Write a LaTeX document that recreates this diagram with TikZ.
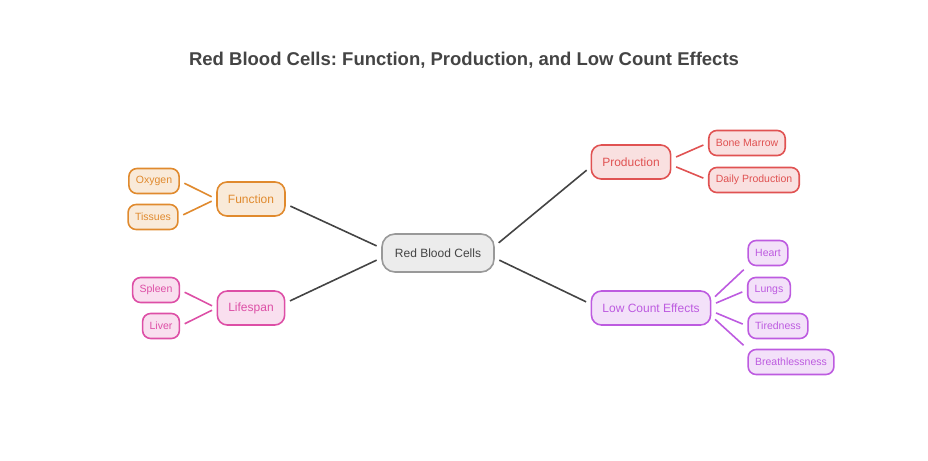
\documentclass[tikz,border=0pt]{standalone}
\usepackage{fontspec}
\setmainfont{Liberation Sans}
\frenchspacing
\usetikzlibrary{positioning}
\definecolor{colorPR}{HTML}{E05252}
\definecolor{colorLC}{HTML}{BD5BE0}
\definecolor{colorText}{HTML}{444444}
\definecolor{colorFN}{HTML}{E08A2E}
\definecolor{colorLS}{HTML}{DD4FA6}
\tikzset{
   every path/.style={line width=1.6pt},
   topic/.style={rectangle, rounded corners=10pt, draw=#1, fill=#1!18, text=#1, minimum height=34pt, inner xsep=11pt, font=\fontsize{12}{14}\selectfont},
   leaf/.style={rectangle, rounded corners=8pt, draw=#1, fill=#1!18, text=#1, minimum height=25pt, inner xsep=7pt, font=\fontsize{10.5}{12}\selectfont},
   link/.style={draw=colorText, shorten >=5pt, shorten <=5pt},
   sublink/.style={draw=#1, shorten >=5pt, shorten <=5pt},
}
\begin{document}
\begin{tikzpicture}[x=1pt,y=-1pt]
\useasboundingbox (0,0) rectangle (928,460);

\node[text=colorText, font=\bfseries\fontsize{18.5}{21}\selectfont] (title) at (464,60) {Red Blood Cells: Function, Production, and Low Count Effects};

\node[rectangle, rounded corners=13pt, draw=gray!80, fill=gray!15, text=colorText, minimum height=38pt, inner xsep=13pt, font=\fontsize{12}{14}\selectfont] (rbc) at (438,253) {Red Blood Cells};

% left branches
\node[topic=colorFN] (fn) at (251,199) {Function};
\node[leaf=colorFN] (oxy) at (154,181) {Oxygen};
\node[leaf=colorFN] (tis) at (153,217) {Tissues};

\node[topic=colorLS] (life) at (251,308) {Lifespan};
\node[leaf=colorLS] (spl) at (156,290) {Spleen};
\node[leaf=colorLS] (liv) at (161,326) {Liver};

% right branches
\node[topic=colorPR] (prod) at (631,162) {Production};
\node[leaf=colorPR] (bone) at (747,143) {Bone Marrow};
\node[leaf=colorPR] (daily) at (754,180) {Daily Production};

\node[topic=colorLC] (low) at (651,308) {Low Count Effects};
\node[leaf=colorLC] (heart) at (768,253) {Heart};
\node[leaf=colorLC] (lung) at (769,290) {Lungs};
\node[leaf=colorLC] (tired) at (778,326) {Tiredness};
\node[leaf=colorLC] (breath) at (791,362) {Breathlessness};

\draw[link] ([yshift=5pt]rbc.west) -- ([yshift=-5pt]fn.east);
\draw[link] ([yshift=-5pt]rbc.west) -- ([yshift=5pt]life.east);
\draw[link] ([yshift=7pt]rbc.east) -- ([yshift=-5pt]prod.west);
\draw[link] ([yshift=-5pt]rbc.east) -- ([yshift=4pt]low.west);

\draw[sublink=colorFN] (fn.west) -- (oxy.east);
\draw[sublink=colorFN] (fn.west) -- (tis.east);
\draw[sublink=colorLS] (life.west) -- (spl.east);
\draw[sublink=colorLS] (life.west) -- (liv.east);
\draw[sublink=colorPR] ([yshift=3pt]prod.east) -- (bone.west);
\draw[sublink=colorPR] ([yshift=-3pt]prod.east) -- (daily.west);
\draw[sublink=colorLC] ([yshift=8pt]low.east) -- (heart.south west);
\draw[sublink=colorLC] ([yshift=3pt]low.east) -- (lung.west);
\draw[sublink=colorLC] ([yshift=-3pt]low.east) -- (tired.west);
\draw[sublink=colorLC] ([yshift=-8pt]low.east) -- (breath.north west);
\end{tikzpicture}
\end{document}
